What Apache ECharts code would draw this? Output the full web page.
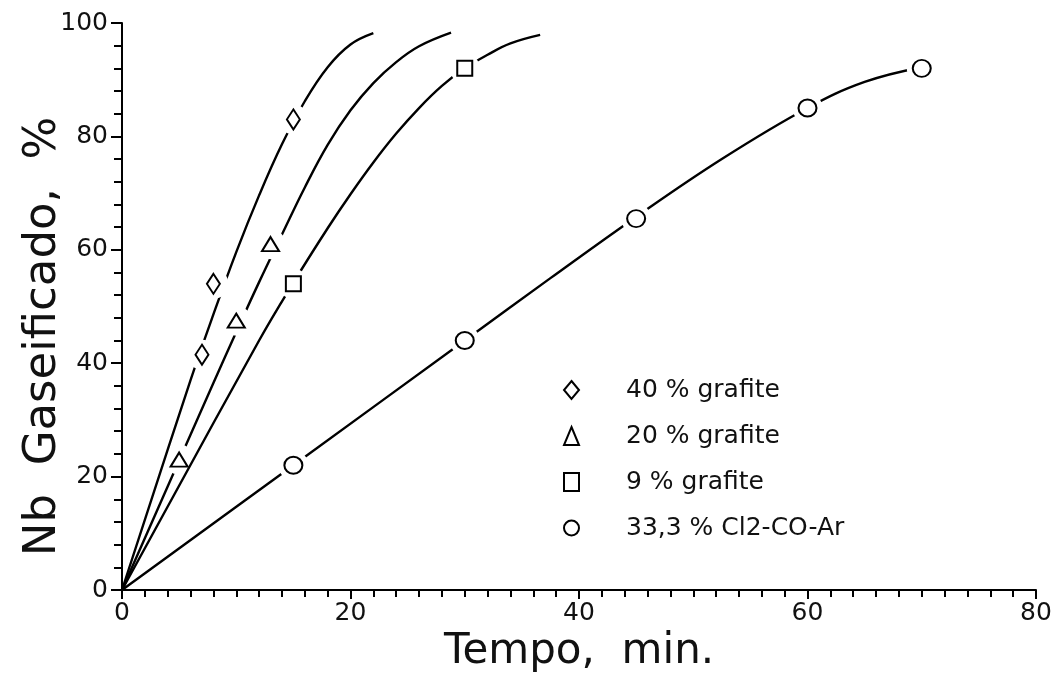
<!DOCTYPE html>
<html>
<head>
<meta charset="utf-8">
<script src="https://cdn.jsdelivr.net/npm/echarts@6/dist/echarts.min.js"></script>
<style>
  html, body { margin: 0; padding: 0; background: #fff; }
  #nbChart { width: 1055px; height: 675px; }
</style>
</head>
<body>
<div id="nbChart"></div>
<script>
  // pontos medidos (tempo em min, % Nb gaseificado)
  var grafite40 = [[7, 41.5], [8, 54], [15, 83]]
  var grafite20 = [[5, 23], [10, 47.5], [13, 61]]
  var grafite9 = [[15, 54], [30, 92]]
  var cloroCO = [[15, 22], [30, 44], [45, 65.5], [60, 85], [70, 92]]

  // curvas ajustadas
  var curva40 = [[0, 0], [6, 37], [8, 48.6], [10, 59.6], [12, 69.6], [14, 78.6], [16, 86.2], [18, 92.2], [20, 96.2], [22, 98.2]]
  var curva20 = [[0, 0], [8, 36.5], [10, 45.5], [12, 54.3], [14, 62.7], [16, 71], [18, 78.5], [20, 84.6], [22, 89.4], [24, 93.1], [26, 95.9], [28.8, 98.3]]
  var curva9 = [[0, 0], [12, 44], [15, 54.2], [18, 63.8], [20, 69.8], [22, 75.4], [24, 80.5], [26, 85], [28, 88.9], [30, 92], [32, 94.4], [34, 96.4], [36.6, 97.9]]
  var curvaCO = [[0, 0], [15, 22], [30, 44], [37.5, 55], [45, 65.8], [52.5, 76], [60, 85], [65, 89.6], [70, 92.2]]

  var nomes = ['40 % grafite', '20 % grafite', '9 % grafite', '33,3 % Cl2-CO-Ar']
  var fonte = 'DejaVu Sans'

  var chart = echarts.init(document.getElementById('nbChart'))

  // cada grupo: curva, mascara branca (abre o traco em volta do ponto), marcador vazio
  function grupo (nome, curva, pontos, simbolo, tamanho, z) {
    return [{
      type: 'line',
      data: curva,
      smooth: 0.4,
      showSymbol: false,
      silent: true,
      z: z,
      lineStyle: { color: '#000', width: 2.4 }
    }, {
      type: 'scatter',
      data: pontos,
      symbol: 'circle',
      symbolSize: 30,
      silent: true,
      z: z + 1,
      itemStyle: { color: '#fff', opacity: 1 }
    }, {
      name: nome,
      type: 'scatter',
      data: pontos,
      symbol: simbolo,
      symbolSize: tamanho,
      z: z + 2,
      itemStyle: { color: '#fff', borderColor: '#000', borderWidth: 2, opacity: 1 }
    }]
  }

  var series = [].concat(
    grupo(nomes[1], curva20, grafite20, 'triangle', [17, 14], 2),
    grupo(nomes[0], curva40, grafite40, 'diamond', [13, 20], 5),
    grupo(nomes[2], curva9, grafite9, 'rect', [15, 15], 8),
    grupo(nomes[3], curvaCO, cloroCO, 'circle', [18, 17], 11)
  )

  chart.setOption({
    animation: false,
    backgroundColor: '#fff',
    grid: { left: 122, right: 19, top: 23, bottom: 85, outerBoundsMode: 'none' },
    legend: {
      orient: 'vertical',
      left: 558,
      top: 372,
      itemWidth: 15,
      itemHeight: 18,
      itemGap: 20,
      data: nomes,
      textStyle: { fontFamily: fonte, fontSize: 25, color: '#111', lineHeight: 26, padding: [0, 0, 0, 42] }
    },
    xAxis: {
      type: 'value',
      min: 0,
      max: 80,
      interval: 20,
      name: 'Tempo,  min.',
      nameLocation: 'middle',
      nameGap: 41,
      nameMoveOverlap: false,
      nameTextStyle: { fontFamily: fonte, fontSize: 42, color: '#111' },
      axisLine: { onZero: false, lineStyle: { color: '#000', width: 2 } },
      axisTick: { show: true, length: 9, lineStyle: { color: '#000', width: 2 } },
      minorTick: { show: true, splitNumber: 10, length: 7, lineStyle: { color: '#000', width: 2 } },
      splitLine: { show: false },
      axisLabel: { fontFamily: fonte, fontSize: 25, color: '#111', margin: 11 }
    },
    yAxis: {
      type: 'value',
      min: 0,
      max: 100,
      interval: 20,
      name: 'Nb  Gaseificado,  %',
      nameLocation: 'middle',
      nameGap: 56,
      nameMoveOverlap: false,
      nameTextStyle: { fontFamily: fonte, fontSize: 45, color: '#111', padding: [0, 60, 0, 0] },
      axisLine: { show: true, onZero: false, lineStyle: { color: '#000', width: 2 } },
      axisTick: { show: true, length: 11, lineStyle: { color: '#000', width: 2 } },
      minorTick: { show: true, splitNumber: 5, length: 8, lineStyle: { color: '#000', width: 2 } },
      splitLine: { show: false },
      axisLabel: { fontFamily: fonte, fontSize: 25, color: '#111', margin: 14 }
    },
    series: series
  })
</script>
</body>
</html>
